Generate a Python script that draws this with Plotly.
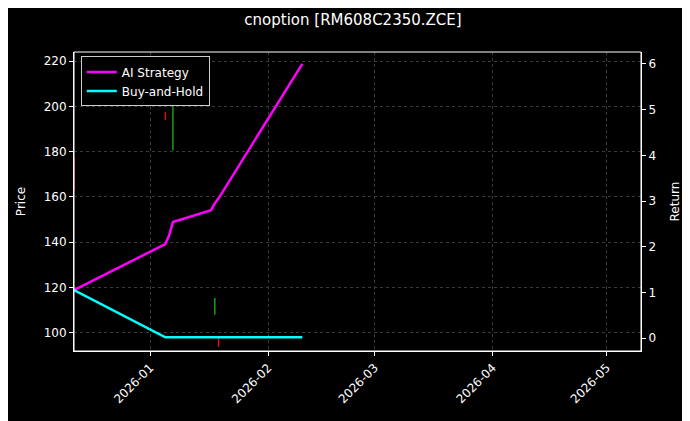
import plotly.graph_objects as go

# return curves (right axis)
ai_dates = ["2025-12-12", "2026-01-05", "2026-01-06", "2026-01-07", "2026-01-17", "2026-01-18", "2026-01-19", "2026-02-10"]
ai_returns = [1.05, 2.06, 2.25, 2.54, 2.80, 2.95, 3.06, 6.0]
bh_dates = ["2025-12-12", "2026-01-05", "2026-02-10"]
bh_returns = [1.05, 0.02, 0.02]

# candles (left axis): date, low, high
up_dates = ["2026-01-07", "2026-01-18"]
up_low = [180.5, 108.0]
up_high = [206.0, 115.4]
down_dates = ["2025-12-12", "2026-01-05", "2026-01-19"]
down_low = [163.0, 194.0, 93.8]
down_high = [177.5, 197.4, 98.7]


def segments(dates, lows, highs):
    xs, ys = [], []
    for d, lo, hi in zip(dates, lows, highs):
        xs += [d, d, None]
        ys += [lo, hi, None]
    return xs, ys


fig = go.Figure()
ux, uy = segments(up_dates, up_low, up_high)
dx, dy = segments(down_dates, down_low, down_high)
fig.add_trace(go.Scatter(x=ux, y=uy, mode="lines", line=dict(color="#1f9a1f", width=1.5),
                         showlegend=False))
fig.add_trace(go.Scatter(x=dx, y=dy, mode="lines", line=dict(color="#e01010", width=1.5),
                         showlegend=False))
fig.add_trace(go.Scatter(x=ai_dates, y=ai_returns, mode="lines", name="AI Strategy",
                         line=dict(color="#ff00ff", width=2.5), yaxis="y2"))
fig.add_trace(go.Scatter(x=bh_dates, y=bh_returns, mode="lines", name="Buy-and-Hold",
                         line=dict(color="#00ffff", width=2.5), yaxis="y2"))

grid = dict(showgrid=True, gridcolor="#3a3a3a", griddash="dot", gridwidth=0.8,
            showline=True, linecolor="white", linewidth=1,
            ticks="outside", tickcolor="white", ticklen=4, zeroline=False,
            tickfont=dict(color="white", size=12))

fig.update_layout(
    width=690, height=421,
    paper_bgcolor="black", plot_bgcolor="black",
    font=dict(family="DejaVu Sans", color="white", size=12),
    title=dict(text="cnoption [RM608C2350.ZCE]", x=0.5, xanchor="center", y=0.985,
               font=dict(size=15, color="white")),
    margin=dict(l=58, r=57, t=44, b=78),
    xaxis=dict(**grid, type="date", range=["2025-12-12", "2026-05-10"],
               tickvals=["2026-01-01", "2026-02-01", "2026-03-01", "2026-04-01", "2026-05-01"],
               ticktext=["2026-01", "2026-02", "2026-03", "2026-04", "2026-05"],
               tickangle=-45),
    yaxis=dict(**grid, title=dict(text="Price", font=dict(size=12)), range=[92, 224],
               tickvals=[100, 120, 140, 160, 180, 200, 220]),
    yaxis2=dict(**{k: v for k, v in grid.items() if k != "showgrid"}, showgrid=False,
                overlaying="y", side="right", range=[-0.28, 6.26],
                title=dict(text="Return", font=dict(size=12)),
                tickvals=[0, 1, 2, 3, 4, 5, 6]),
    legend=dict(x=0.012, y=0.985, xanchor="left", yanchor="top", bgcolor="black",
                bordercolor="#cccccc", borderwidth=1, font=dict(color="white", size=12),
                tracegroupgap=0),
    showlegend=True,
)
fig.add_shape(type="rect", xref="paper", yref="paper", x0=0, y0=0, x1=1, y1=1,
              line=dict(color="white", width=1))

fig.write_html("out.html")
